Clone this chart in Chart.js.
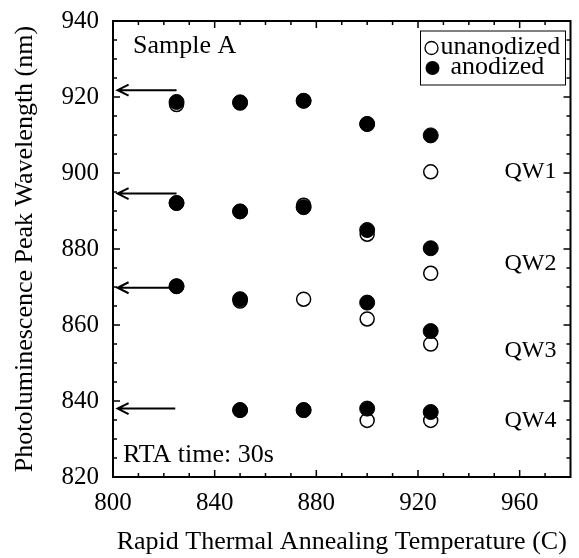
<!DOCTYPE html>
<html>
<head>
<meta charset="utf-8">
<script src="https://cdn.jsdelivr.net/npm/chart.js@4"></script>
<style>
  html, body { margin: 0; padding: 0; background: #fff; }
  #wrap { width: 579px; height: 558px; }
</style>
</head>
<body>
<div id="wrap"><canvas id="pl-chart" width="579" height="558"></canvas></div>
<script>
// annealing temperatures (C)
const temps = [825, 850, 875, 900, 925];

// peak wavelengths (nm), one array per quantum well
const anodQW1 = [918.7, 918.6, 919.0, 912.9, 909.9];
const unanQW1 = [918.0, 918.4, 919.0, 912.9, 900.3];
const anodQW2 = [892.1, 889.9, 891.0, 885.0, 880.2];
const unanQW2 = [892.1, 889.9, 891.5, 883.9, 873.6];
const anodQW3 = [870.2, 866.8, null, 865.9, 858.4];
const unanQW3 = [870.2, 866.3, 866.8, 861.6, 855.0];
const anodQW4 = [null, 837.6, 837.6, 838.0, 837.1];
const unanQW4 = [null, 837.6, 837.6, 834.9, 834.9];

// as-grown wavelengths marked by arrows
const arrowY = [921.8, 894.6, 869.8, 838.0];
const arrowFrom = [825, 825, 824.5, 824.5];
const arrowTo = 801.8;

// well labels on the right
const qwLabels = ['QW1', 'QW2', 'QW3', 'QW4'];
const qwY = [900.3, 876.0, 853.2, 834.9];
const qwX = 974.5;

const xTicks = [800, 840, 880, 920, 960];
const yTicks = [820, 840, 860, 880, 900, 920, 940];

const serif = '"Liberation Serif", "Times New Roman", serif';

function toPoints(ys) {
  const pts = [];
  ys.forEach((y, i) => { if (y !== null) pts.push({x: temps[i], y: y}); });
  return pts;
}

const unanPts = [].concat(toPoints(unanQW1), toPoints(unanQW2), toPoints(unanQW3), toPoints(unanQW4));
const anodPts = [].concat(toPoints(anodQW1), toPoints(anodQW2), toPoints(anodQW3), toPoints(anodQW4));

const decorations = {
  id: 'decorations',
  afterDatasetsDraw(chart) {
    const {ctx, chartArea: a, scales: {x, y}} = chart;
    ctx.save();
    ctx.strokeStyle = '#000';
    ctx.fillStyle = '#000';

    // frame
    ctx.lineWidth = 2;
    ctx.strokeRect(a.left, a.top, a.right - a.left, a.bottom - a.top);

    // inward ticks on all sides
    ctx.lineWidth = 1.5;
    ctx.beginPath();
    for (let v = 810; v < 980; v += 10) {
      const px = x.getPixelForValue(v);
      const len = v % 40 === 0 ? 7 : 4;
      ctx.moveTo(px, a.bottom); ctx.lineTo(px, a.bottom - len);
      ctx.moveTo(px, a.top); ctx.lineTo(px, a.top + len);
    }
    for (let v = 825; v < 940; v += 5) {
      const py = y.getPixelForValue(v);
      const len = v % 20 === 0 ? 7 : 4;
      ctx.moveTo(a.left, py); ctx.lineTo(a.left + len, py);
      ctx.moveTo(a.right, py); ctx.lineTo(a.right - len, py);
    }
    ctx.stroke();

    // arrows
    ctx.lineWidth = 2;
    arrowY.forEach((v, i) => {
      const py = y.getPixelForValue(v);
      const x0 = x.getPixelForValue(arrowFrom[i]);
      const x1 = x.getPixelForValue(arrowTo);
      ctx.beginPath();
      ctx.moveTo(x0, py); ctx.lineTo(x1, py);
      ctx.moveTo(x1 + 11, py - 5.5); ctx.lineTo(x1, py); ctx.lineTo(x1 + 11, py + 5.5);
      ctx.stroke();
    });

    // annotations
    ctx.font = '26px ' + serif;
    ctx.textBaseline = 'middle';
    ctx.textAlign = 'left';
    ctx.fillText('Sample A', a.left + 20, a.top + 25);
    ctx.fillText('RTA time: 30s', a.left + 10, a.bottom - 22);
    ctx.font = '24px ' + serif;
    ctx.textAlign = 'right';
    qwLabels.forEach((t, i) => {
      ctx.fillText(t, x.getPixelForValue(qwX), y.getPixelForValue(qwY[i]));
    });

    // legend box
    ctx.font = '26px ' + serif;
    const bx = a.right - 150, by = a.top + 10, bw = 145, bh = 54;
    ctx.lineWidth = 1;
    ctx.strokeRect(bx, by, bw, bh);
    ctx.textAlign = 'left';
    ctx.beginPath();
    ctx.arc(bx + 11, by + 17, 6.5, 0, Math.PI * 2);
    ctx.fillStyle = '#fff'; ctx.fill();
    ctx.lineWidth = 1.3; ctx.stroke();
    ctx.fillStyle = '#000';
    ctx.fillText('unanodized', bx + 20, by + 16);
    ctx.beginPath();
    ctx.arc(bx + 12, by + 37, 7, 0, Math.PI * 2);
    ctx.fill();
    ctx.fillText('anodized', bx + 30, by + 36);
    ctx.restore();
  }
};

const ctx = document.getElementById('pl-chart').getContext('2d');
const plChart = new Chart(ctx, {
  type: 'scatter',
  data: {
    datasets: [
      {
        label: 'anodized',
        data: anodPts,
        order: 0,
        pointRadius: 7.5,
        pointBackgroundColor: '#000',
        pointBorderColor: '#000',
        pointBorderWidth: 1
      },
      {
        label: 'unanodized',
        data: unanPts,
        order: 1,
        pointRadius: 7,
        pointBackgroundColor: '#fff',
        pointBorderColor: '#000',
        pointBorderWidth: 1.5
      }
    ]
  },
  options: {
    responsive: false,
    animation: false,
    layout: { padding: { top: 6, right: 5, bottom: 0, left: 0 } },
    plugins: { legend: { display: false }, tooltip: { enabled: false } },
    scales: {
      x: {
        type: 'linear',
        min: 800, max: 980,
        afterBuildTicks: s => { s.ticks = xTicks.map(v => ({value: v})); },
        afterFit: s => { s.height = 81; },
        grid: { display: false },
        border: { display: false },
        ticks: { color: '#000', padding: 3, maxRotation: 0, font: { family: serif, size: 25 } },
        title: {
          display: true,
          text: 'Rapid Thermal Annealing Temperature (C)',
          color: '#000',
          padding: { top: 0, bottom: 0 },
          font: { family: serif, size: 26 }
        }
      },
      y: {
        type: 'linear',
        min: 820, max: 940,
        afterBuildTicks: s => { s.ticks = yTicks.map(v => ({value: v})); },
        afterFit: s => { s.width = 113; },
        grid: { display: false },
        border: { display: false },
        ticks: { color: '#000', padding: 6, font: { family: serif, size: 25 } },
        title: {
          display: true,
          text: 'Photoluminescence Peak Wavelength (nm)',
          color: '#000',
          padding: { top: 10, bottom: 0 },
          font: { family: serif, size: 26 }
        }
      }
    }
  },
  plugins: [decorations]
});
</script>
</body>
</html>
